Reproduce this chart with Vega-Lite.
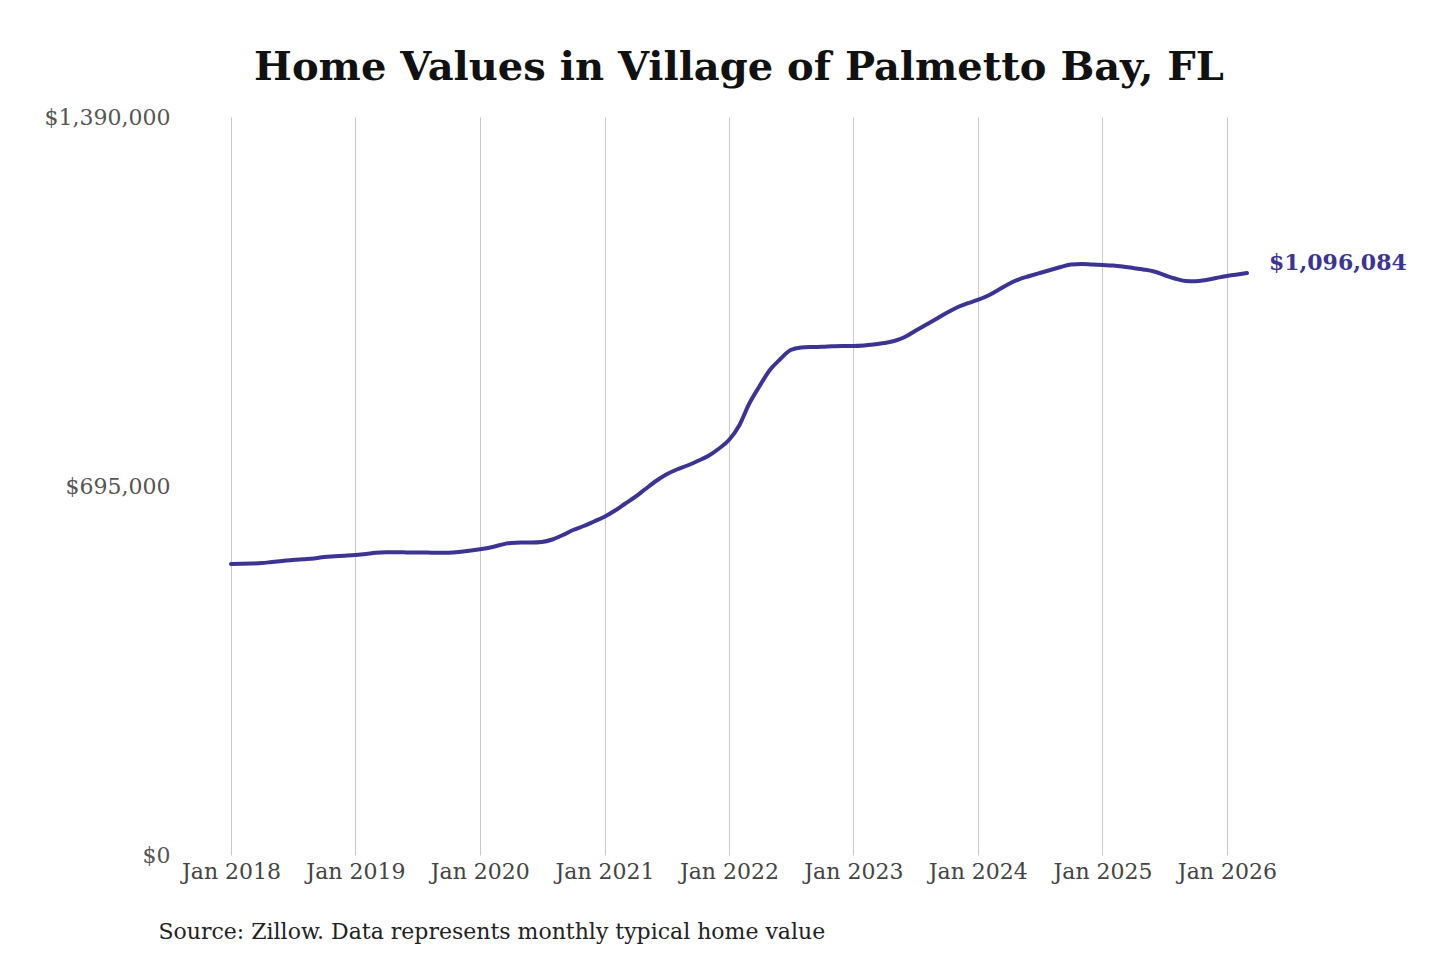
{
  "$schema": "https://vega.github.io/schema/vega-lite/v6.json",
  "width": 1016,
  "height": 738,
  "autosize": "none",
  "padding": {"left": 231, "top": 117, "right": 193, "bottom": 105},
  "background": "white",
  "title": {
    "text": "Home Values in Village of Palmetto Bay, FL",
    "font": "DejaVu Serif",
    "fontSize": 40,
    "fontWeight": "bold",
    "color": "#111111",
    "anchor": "middle",
    "offset": 18
  },
  "data": {
    "values": [
      {"date": "2018-01-01", "value": 548100},
      {"date": "2018-02-01", "value": 548475},
      {"date": "2018-03-01", "value": 549040},
      {"date": "2018-04-01", "value": 549982},
      {"date": "2018-05-01", "value": 551866},
      {"date": "2018-06-01", "value": 553749},
      {"date": "2018-07-01", "value": 555633},
      {"date": "2018-08-01", "value": 557139},
      {"date": "2018-09-01", "value": 558646},
      {"date": "2018-10-01", "value": 561283},
      {"date": "2018-11-01", "value": 562601},
      {"date": "2018-12-01", "value": 563732},
      {"date": "2019-01-01", "value": 565050},
      {"date": "2019-02-01", "value": 566934},
      {"date": "2019-03-01", "value": 569194},
      {"date": "2019-04-01", "value": 570135},
      {"date": "2019-05-01", "value": 570135},
      {"date": "2019-06-01", "value": 569947},
      {"date": "2019-07-01", "value": 569759},
      {"date": "2019-08-01", "value": 569570},
      {"date": "2019-09-01", "value": 569194},
      {"date": "2019-10-01", "value": 569382},
      {"date": "2019-11-01", "value": 570701},
      {"date": "2019-12-01", "value": 572961},
      {"date": "2020-01-01", "value": 575786},
      {"date": "2020-02-01", "value": 579176},
      {"date": "2020-03-01", "value": 583885},
      {"date": "2020-04-01", "value": 587652},
      {"date": "2020-05-01", "value": 588594},
      {"date": "2020-06-01", "value": 588594},
      {"date": "2020-07-01", "value": 589536},
      {"date": "2020-08-01", "value": 594244},
      {"date": "2020-09-01", "value": 602720},
      {"date": "2020-10-01", "value": 612138},
      {"date": "2020-11-01", "value": 619672},
      {"date": "2020-12-01", "value": 628147},
      {"date": "2021-01-01", "value": 637188},
      {"date": "2021-02-01", "value": 648866},
      {"date": "2021-03-01", "value": 661109},
      {"date": "2021-04-01", "value": 674293},
      {"date": "2021-05-01", "value": 689361},
      {"date": "2021-06-01", "value": 704429},
      {"date": "2021-07-01", "value": 716672},
      {"date": "2021-08-01", "value": 726089},
      {"date": "2021-09-01", "value": 733623},
      {"date": "2021-10-01", "value": 742099},
      {"date": "2021-11-01", "value": 751517},
      {"date": "2021-12-01", "value": 764701},
      {"date": "2022-01-01", "value": 781653},
      {"date": "2022-02-01", "value": 809905},
      {"date": "2022-03-01", "value": 849459},
      {"date": "2022-04-01", "value": 883362},
      {"date": "2022-05-01", "value": 913498},
      {"date": "2022-06-01", "value": 934216},
      {"date": "2022-07-01", "value": 951168},
      {"date": "2022-08-01", "value": 955876},
      {"date": "2022-09-01", "value": 956818},
      {"date": "2022-10-01", "value": 957195},
      {"date": "2022-11-01", "value": 958136},
      {"date": "2022-12-01", "value": 958702},
      {"date": "2023-01-01", "value": 958702},
      {"date": "2023-02-01", "value": 959643},
      {"date": "2023-03-01", "value": 961527},
      {"date": "2023-04-01", "value": 964352},
      {"date": "2023-05-01", "value": 968119},
      {"date": "2023-06-01", "value": 975653},
      {"date": "2023-07-01", "value": 986954},
      {"date": "2023-08-01", "value": 998255},
      {"date": "2023-09-01", "value": 1009556},
      {"date": "2023-10-01", "value": 1020857},
      {"date": "2023-11-01", "value": 1031216},
      {"date": "2023-12-01", "value": 1038750},
      {"date": "2024-01-01", "value": 1045343},
      {"date": "2024-02-01", "value": 1053818},
      {"date": "2024-03-01", "value": 1064178},
      {"date": "2024-04-01", "value": 1075479},
      {"date": "2024-05-01", "value": 1084331},
      {"date": "2024-06-01", "value": 1090547},
      {"date": "2024-07-01", "value": 1096197},
      {"date": "2024-08-01", "value": 1101848},
      {"date": "2024-09-01", "value": 1107498},
      {"date": "2024-10-01", "value": 1112207},
      {"date": "2024-11-01", "value": 1113149},
      {"date": "2024-12-01", "value": 1112207},
      {"date": "2025-01-01", "value": 1111265},
      {"date": "2025-02-01", "value": 1110323},
      {"date": "2025-03-01", "value": 1108440},
      {"date": "2025-04-01", "value": 1105615},
      {"date": "2025-05-01", "value": 1102789},
      {"date": "2025-06-01", "value": 1099022},
      {"date": "2025-07-01", "value": 1092430},
      {"date": "2025-08-01", "value": 1085838},
      {"date": "2025-09-01", "value": 1081129},
      {"date": "2025-10-01", "value": 1080564},
      {"date": "2025-11-01", "value": 1083013},
      {"date": "2025-12-01", "value": 1086780},
      {"date": "2026-01-01", "value": 1090547},
      {"date": "2026-02-01", "value": 1093372},
      {"date": "2026-03-01", "value": 1096084}
    ]
  },
  "encoding": {
    "x": {
      "field": "date",
      "type": "temporal",
      "scale": {"domain": ["2018-01-01", "2026-03-01"]},
      "axis": {
        "values": ["2018-01-01", "2019-01-01", "2020-01-01", "2021-01-01", "2022-01-01", "2023-01-01", "2024-01-01", "2025-01-01", "2026-01-01"],
        "format": "%b %Y",
        "grid": true,
        "gridColor": "#c8c8c8",
        "gridWidth": 1,
        "domain": false,
        "ticks": false,
        "tickSize": 0,
        "labelFont": "DejaVu Serif",
        "labelFontSize": 22,
        "labelColor": "#444444",
        "labelPadding": 6,
        "labelFlush": false,
        "title": "Source: Zillow. Data represents monthly typical home value",
        "titleFont": "DejaVu Serif",
        "titleFontSize": 22,
        "titleFontWeight": "normal",
        "titleColor": "#222222",
        "titleAnchor": "start",
        "titleAlign": "left",
        "titleBaseline": "middle",
        "titleX": -73,
        "titleY": 76
      }
    },
    "y": {
      "field": "value",
      "type": "quantitative",
      "scale": {"domain": [0, 1390000], "nice": false, "zero": true},
      "axis": {
        "values": [0, 695000, 1390000],
        "format": "$,.0f",
        "grid": false,
        "domain": false,
        "ticks": false,
        "tickSize": 0,
        "labelFont": "DejaVu Serif",
        "labelFontSize": 22,
        "labelColor": "#555555",
        "labelPadding": 61,
        "labelFlush": false,
        "title": null
      }
    }
  },
  "layer": [
    {
      "mark": {
        "type": "line",
        "color": "#3b3494",
        "strokeWidth": 4,
        "interpolate": "monotone",
        "strokeCap": "round"
      }
    },
    {
      "transform": [{"filter": "year(datum.date) == 2026 && month(datum.date) == 2"}],
      "mark": {
        "type": "text",
        "align": "left",
        "baseline": "middle",
        "dx": 22,
        "dy": -10,
        "font": "DejaVu Serif",
        "fontSize": 22,
        "fontWeight": "bold",
        "color": "#3b3494"
      },
      "encoding": {
        "text": {"field": "value", "type": "quantitative", "format": "$,.0f"}
      }
    }
  ],
  "config": {
    "view": {"stroke": null}
  }
}
